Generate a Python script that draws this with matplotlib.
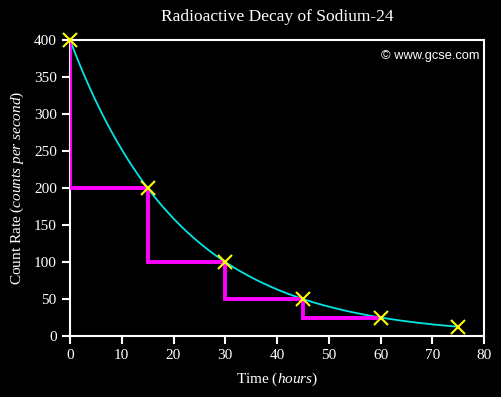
import numpy as np
import matplotlib
matplotlib.use("Agg")
import matplotlib.pyplot as plt

# Data
times = [0, 15, 30, 45, 60, 75]
counts = [400, 200, 100, 50, 25, 12.5]
step_x = [0, 0, 15, 15, 30, 30, 45, 45, 60]
step_y = [400, 200, 200, 100, 100, 50, 50, 25, 25]
half_life = 15
initial_count = 400
x_ticks = [0, 10, 20, 30, 40, 50, 60, 70, 80]
y_ticks = [0, 50, 100, 150, 200, 250, 300, 350, 400]

plt.rcParams['font.family'] = ['Liberation Serif', 'DejaVu Serif']
plt.rcParams['mathtext.fontset'] = 'custom'
plt.rcParams['mathtext.rm'] = 'Liberation Serif'
plt.rcParams['mathtext.it'] = 'Liberation Serif:italic'

fig = plt.figure(figsize=(5.02, 3.97), dpi=100, facecolor='black')
ax = fig.add_axes([70/502, 1-336/397, (484-70)/502, (336-40)/397], facecolor='black')

t = np.linspace(0, 75, 300)
ax.plot(t, initial_count * 0.5 ** (t / half_life), color='#00e5e5', lw=1.3, zorder=2)
ax.plot(step_x, step_y, color='#ff00ff', lw=2.8, solid_joinstyle='miter', zorder=3)
ax.plot(times, counts, linestyle='none', marker='x', color='#ffff00', ms=9.5, mew=1.5,
        zorder=4, clip_on=False)

ax.set_xlim(0, 80)
ax.set_ylim(0, 400)
ax.set_xticks(x_ticks)
ax.set_yticks(y_ticks)
for s in ax.spines.values():
    s.set_color('white')
    s.set_linewidth(1.5)
ax.tick_params(colors='white', labelcolor='white', labelsize=11, width=1.5, length=6)

ax.set_xlabel('Time ($\\it{hours}$)', color='white', fontsize=11, labelpad=6)
ax.set_ylabel('Count Rate ($\\it{counts\\ per\\ second}$)', color='white', fontsize=11, labelpad=6)
fig.text(0.5 * (70 + 484) / 502 + 0.0, 1 - 17/397, 'Radioactive Decay of Sodium-24', color='white',
         fontsize=12.5, ha='center', va='center')
ax.text(0.99, 0.965, '© www.gcse.com', transform=ax.transAxes, color='white',
        fontsize=9.3, ha='right', va='top', family=['Liberation Sans', 'DejaVu Sans'])

fig.savefig('out.png', dpi=100, facecolor='black')
